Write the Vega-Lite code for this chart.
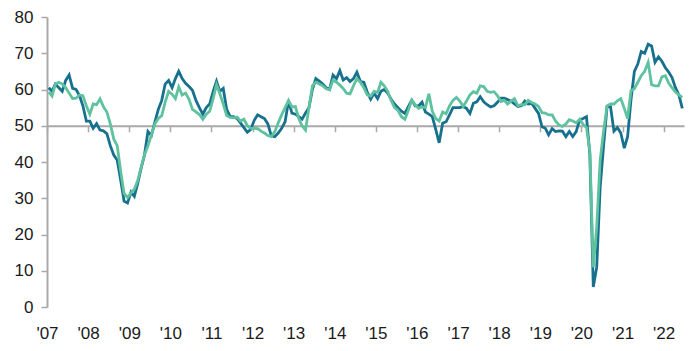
{
  "$schema": "https://vega.github.io/schema/vega-lite/v6.json",
  "width": 637,
  "height": 290,
  "autosize": {"type": "none"},
  "padding": {"left": 47, "top": 17, "right": 16, "bottom": 44},
  "background": "white",
  "config": {
    "view": {"stroke": null},
    "axis": {
      "grid": false,
      "title": null,
      "labelFont": "Liberation Sans",
      "labelFontSize": 17,
      "labelColor": "#1a1a1a",
      "domainColor": "#a9a9a9",
      "tickColor": "#a9a9a9",
      "domainWidth": 2,
      "tickWidth": 1.5,
      "labelOverlap": false,
      "labelFlush": false,
      "zindex": 0
    }
  },
  "data": {
    "values": [
      {"month": "2007-01", "seriesA": 60.5, "seriesB": 59.3},
      {"month": "2007-02", "seriesA": 59.5, "seriesB": 58.2},
      {"month": "2007-03", "seriesA": 61.5, "seriesB": 61.5},
      {"month": "2007-04", "seriesA": 60.5, "seriesB": 62},
      {"month": "2007-05", "seriesA": 59.5, "seriesB": 61.5},
      {"month": "2007-06", "seriesA": 62.5, "seriesB": 60.5},
      {"month": "2007-07", "seriesA": 64, "seriesB": 59},
      {"month": "2007-08", "seriesA": 60.3, "seriesB": 57.5},
      {"month": "2007-09", "seriesA": 60, "seriesB": 57.6},
      {"month": "2007-10", "seriesA": 58.3, "seriesB": 58.5},
      {"month": "2007-11", "seriesA": 55.5, "seriesB": 58.3},
      {"month": "2007-12", "seriesA": 51.3, "seriesB": 55.5},
      {"month": "2008-01", "seriesA": 51.3, "seriesB": 53.2},
      {"month": "2008-02", "seriesA": 49.3, "seriesB": 56},
      {"month": "2008-03", "seriesA": 50.6, "seriesB": 55.8},
      {"month": "2008-04", "seriesA": 48.8, "seriesB": 57.4},
      {"month": "2008-05", "seriesA": 48.6, "seriesB": 55.2},
      {"month": "2008-06", "seriesA": 47.8, "seriesB": 53.8},
      {"month": "2008-07", "seriesA": 44.5, "seriesB": 50.5},
      {"month": "2008-08", "seriesA": 41.9, "seriesB": 46.3},
      {"month": "2008-09", "seriesA": 40.5, "seriesB": 44.5},
      {"month": "2008-10", "seriesA": 35, "seriesB": 37.5},
      {"month": "2008-11", "seriesA": 29.2, "seriesB": 31.3},
      {"month": "2008-12", "seriesA": 28.7, "seriesB": 30.2},
      {"month": "2009-01", "seriesA": 31.7, "seriesB": 31.5},
      {"month": "2009-02", "seriesA": 30.5, "seriesB": 32.5},
      {"month": "2009-03", "seriesA": 34, "seriesB": 34.8},
      {"month": "2009-04", "seriesA": 38.2, "seriesB": 38.5},
      {"month": "2009-05", "seriesA": 42, "seriesB": 42},
      {"month": "2009-06", "seriesA": 48.4, "seriesB": 44.5},
      {"month": "2009-07", "seriesA": 47.3, "seriesB": 47.5},
      {"month": "2009-08", "seriesA": 51, "seriesB": 50.5},
      {"month": "2009-09", "seriesA": 54.5, "seriesB": 52},
      {"month": "2009-10", "seriesA": 57, "seriesB": 52.8},
      {"month": "2009-11", "seriesA": 61.5, "seriesB": 56.5},
      {"month": "2009-12", "seriesA": 62.5, "seriesB": 59.5},
      {"month": "2010-01", "seriesA": 60.5, "seriesB": 58.7},
      {"month": "2010-02", "seriesA": 63, "seriesB": 57.5},
      {"month": "2010-03", "seriesA": 65, "seriesB": 60.7},
      {"month": "2010-04", "seriesA": 63, "seriesB": 58.5},
      {"month": "2010-05", "seriesA": 61.7, "seriesB": 59},
      {"month": "2010-06", "seriesA": 60.8, "seriesB": 57.3},
      {"month": "2010-07", "seriesA": 59.8, "seriesB": 54.5},
      {"month": "2010-08", "seriesA": 57, "seriesB": 53.8},
      {"month": "2010-09", "seriesA": 55, "seriesB": 53.1},
      {"month": "2010-10", "seriesA": 53.2, "seriesB": 51.8},
      {"month": "2010-11", "seriesA": 55, "seriesB": 53.2},
      {"month": "2010-12", "seriesA": 56, "seriesB": 54},
      {"month": "2011-01", "seriesA": 59.5, "seriesB": 57.5},
      {"month": "2011-02", "seriesA": 62.3, "seriesB": 61.3},
      {"month": "2011-03", "seriesA": 59.5, "seriesB": 58.9},
      {"month": "2011-04", "seriesA": 60.3, "seriesB": 56},
      {"month": "2011-05", "seriesA": 54.5, "seriesB": 52.8},
      {"month": "2011-06", "seriesA": 52.5, "seriesB": 52.3},
      {"month": "2011-07", "seriesA": 52.5, "seriesB": 52.2},
      {"month": "2011-08", "seriesA": 52, "seriesB": 52.4},
      {"month": "2011-09", "seriesA": 50.8, "seriesB": 51.3},
      {"month": "2011-10", "seriesA": 49.5, "seriesB": 51.8},
      {"month": "2011-11", "seriesA": 48.2, "seriesB": 50},
      {"month": "2011-12", "seriesA": 49, "seriesB": 49.3},
      {"month": "2012-01", "seriesA": 51.5, "seriesB": 49.3},
      {"month": "2012-02", "seriesA": 53, "seriesB": 49.2},
      {"month": "2012-03", "seriesA": 52.5, "seriesB": 48.5},
      {"month": "2012-04", "seriesA": 52, "seriesB": 48},
      {"month": "2012-05", "seriesA": 50.5, "seriesB": 47.3},
      {"month": "2012-06", "seriesA": 47.2, "seriesB": 47},
      {"month": "2012-07", "seriesA": 47, "seriesB": 48.3},
      {"month": "2012-08", "seriesA": 48, "seriesB": 50.8},
      {"month": "2012-09", "seriesA": 49.3, "seriesB": 53},
      {"month": "2012-10", "seriesA": 51.1, "seriesB": 55},
      {"month": "2012-11", "seriesA": 56.8, "seriesB": 57},
      {"month": "2012-12", "seriesA": 53.5, "seriesB": 55.2},
      {"month": "2013-01", "seriesA": 53.2, "seriesB": 55.3},
      {"month": "2013-02", "seriesA": 52.5, "seriesB": 52},
      {"month": "2013-03", "seriesA": 51.8, "seriesB": 50},
      {"month": "2013-04", "seriesA": 53.5, "seriesB": 48.8},
      {"month": "2013-05", "seriesA": 55, "seriesB": 55},
      {"month": "2013-06", "seriesA": 60, "seriesB": 61},
      {"month": "2013-07", "seriesA": 63, "seriesB": 62},
      {"month": "2013-08", "seriesA": 62.3, "seriesB": 61.5},
      {"month": "2013-09", "seriesA": 61.5, "seriesB": 61},
      {"month": "2013-10", "seriesA": 60.5, "seriesB": 60.2},
      {"month": "2013-11", "seriesA": 60, "seriesB": 59.9},
      {"month": "2013-12", "seriesA": 64, "seriesB": 62.6},
      {"month": "2014-01", "seriesA": 63, "seriesB": 62},
      {"month": "2014-02", "seriesA": 65.2, "seriesB": 61.2},
      {"month": "2014-03", "seriesA": 62.6, "seriesB": 60.3},
      {"month": "2014-04", "seriesA": 63.3, "seriesB": 59},
      {"month": "2014-05", "seriesA": 62.2, "seriesB": 58.8},
      {"month": "2014-06", "seriesA": 63, "seriesB": 61},
      {"month": "2014-07", "seriesA": 64.8, "seriesB": 63},
      {"month": "2014-08", "seriesA": 62.2, "seriesB": 62},
      {"month": "2014-09", "seriesA": 62, "seriesB": 60.5},
      {"month": "2014-10", "seriesA": 59.3, "seriesB": 58.5},
      {"month": "2014-11", "seriesA": 57.3, "seriesB": 58.2},
      {"month": "2014-12", "seriesA": 59, "seriesB": 59.5},
      {"month": "2015-01", "seriesA": 57.5, "seriesB": 59.2},
      {"month": "2015-02", "seriesA": 59.5, "seriesB": 62},
      {"month": "2015-03", "seriesA": 60, "seriesB": 61},
      {"month": "2015-04", "seriesA": 59, "seriesB": 59.5},
      {"month": "2015-05", "seriesA": 57.3, "seriesB": 57},
      {"month": "2015-06", "seriesA": 56, "seriesB": 55},
      {"month": "2015-07", "seriesA": 55, "seriesB": 54.2},
      {"month": "2015-08", "seriesA": 54, "seriesB": 52.5},
      {"month": "2015-09", "seriesA": 53.4, "seriesB": 51.8},
      {"month": "2015-10", "seriesA": 55.3, "seriesB": 54.3},
      {"month": "2015-11", "seriesA": 57.1, "seriesB": 57},
      {"month": "2015-12", "seriesA": 55.5, "seriesB": 55.8},
      {"month": "2016-01", "seriesA": 55.5, "seriesB": 54.8},
      {"month": "2016-02", "seriesA": 56.5, "seriesB": 55.2},
      {"month": "2016-03", "seriesA": 53.8, "seriesB": 55},
      {"month": "2016-04", "seriesA": 53.2, "seriesB": 58.8},
      {"month": "2016-05", "seriesA": 52.5, "seriesB": 54},
      {"month": "2016-06", "seriesA": 49, "seriesB": 52},
      {"month": "2016-07", "seriesA": 45.3, "seriesB": 51.3},
      {"month": "2016-08", "seriesA": 50.7, "seriesB": 53.8},
      {"month": "2016-09", "seriesA": 51.1, "seriesB": 53.3},
      {"month": "2016-10", "seriesA": 53, "seriesB": 55.5},
      {"month": "2016-11", "seriesA": 55, "seriesB": 57},
      {"month": "2016-12", "seriesA": 55, "seriesB": 57.8},
      {"month": "2017-01", "seriesA": 55, "seriesB": 56.8},
      {"month": "2017-02", "seriesA": 55.3, "seriesB": 55.3},
      {"month": "2017-03", "seriesA": 54.8, "seriesB": 56.8},
      {"month": "2017-04", "seriesA": 53.4, "seriesB": 58.5},
      {"month": "2017-05", "seriesA": 56.2, "seriesB": 59.4},
      {"month": "2017-06", "seriesA": 56.6, "seriesB": 59},
      {"month": "2017-07", "seriesA": 58, "seriesB": 61},
      {"month": "2017-08", "seriesA": 56.6, "seriesB": 60.8},
      {"month": "2017-09", "seriesA": 55.8, "seriesB": 59.5},
      {"month": "2017-10", "seriesA": 55.2, "seriesB": 59.2},
      {"month": "2017-11", "seriesA": 55.5, "seriesB": 59.4},
      {"month": "2017-12", "seriesA": 56.5, "seriesB": 58.3},
      {"month": "2018-01", "seriesA": 57.6, "seriesB": 56.7},
      {"month": "2018-02", "seriesA": 57.6, "seriesB": 57},
      {"month": "2018-03", "seriesA": 57.2, "seriesB": 56},
      {"month": "2018-04", "seriesA": 56.8, "seriesB": 56.8},
      {"month": "2018-05", "seriesA": 56, "seriesB": 57.5},
      {"month": "2018-06", "seriesA": 55.3, "seriesB": 55.5},
      {"month": "2018-07", "seriesA": 55.5, "seriesB": 55.8},
      {"month": "2018-08", "seriesA": 56.8, "seriesB": 55.8},
      {"month": "2018-09", "seriesA": 56, "seriesB": 57},
      {"month": "2018-10", "seriesA": 56.2, "seriesB": 56.4},
      {"month": "2018-11", "seriesA": 54.8, "seriesB": 56},
      {"month": "2018-12", "seriesA": 53.4, "seriesB": 55.3},
      {"month": "2019-01", "seriesA": 49.7, "seriesB": 53.6},
      {"month": "2019-02", "seriesA": 49.3, "seriesB": 53.5},
      {"month": "2019-03", "seriesA": 47.5, "seriesB": 53},
      {"month": "2019-04", "seriesA": 49.2, "seriesB": 53},
      {"month": "2019-05", "seriesA": 48.4, "seriesB": 51.3},
      {"month": "2019-06", "seriesA": 48.6, "seriesB": 50.2},
      {"month": "2019-07", "seriesA": 48.5, "seriesB": 49.8},
      {"month": "2019-08", "seriesA": 47, "seriesB": 50.5},
      {"month": "2019-09", "seriesA": 48.4, "seriesB": 51.7},
      {"month": "2019-10", "seriesA": 47, "seriesB": 51.3},
      {"month": "2019-11", "seriesA": 48.4, "seriesB": 50.8},
      {"month": "2019-12", "seriesA": 51.6, "seriesB": 51.8},
      {"month": "2020-01", "seriesA": 52, "seriesB": 50.4},
      {"month": "2020-02", "seriesA": 52.5, "seriesB": 49.5},
      {"month": "2020-03", "seriesA": 42, "seriesB": 43},
      {"month": "2020-04", "seriesA": 5.5, "seriesB": 11},
      {"month": "2020-05", "seriesA": 11, "seriesB": 22},
      {"month": "2020-06", "seriesA": 33, "seriesB": 40.5},
      {"month": "2020-07", "seriesA": 44.5, "seriesB": 48.5},
      {"month": "2020-08", "seriesA": 55.3, "seriesB": 55.5},
      {"month": "2020-09", "seriesA": 55.3, "seriesB": 56},
      {"month": "2020-10", "seriesA": 48.5, "seriesB": 56},
      {"month": "2020-11", "seriesA": 49.5, "seriesB": 56.9},
      {"month": "2020-12", "seriesA": 48, "seriesB": 57.5},
      {"month": "2021-01", "seriesA": 43.8, "seriesB": 54.8},
      {"month": "2021-02", "seriesA": 47, "seriesB": 52},
      {"month": "2021-03", "seriesA": 57, "seriesB": 59.6},
      {"month": "2021-04", "seriesA": 65, "seriesB": 60.2},
      {"month": "2021-05", "seriesA": 67, "seriesB": 62},
      {"month": "2021-06", "seriesA": 70.5, "seriesB": 63.8},
      {"month": "2021-07", "seriesA": 70, "seriesB": 65},
      {"month": "2021-08", "seriesA": 72.5, "seriesB": 67.5},
      {"month": "2021-09", "seriesA": 72, "seriesB": 61.3},
      {"month": "2021-10", "seriesA": 67.5, "seriesB": 61},
      {"month": "2021-11", "seriesA": 69, "seriesB": 61},
      {"month": "2021-12", "seriesA": 67.8, "seriesB": 63.5},
      {"month": "2022-01", "seriesA": 66, "seriesB": 63.8},
      {"month": "2022-02", "seriesA": 64.8, "seriesB": 61.8},
      {"month": "2022-03", "seriesA": 63.3, "seriesB": 60.5},
      {"month": "2022-04", "seriesA": 60.5, "seriesB": 59.3},
      {"month": "2022-05", "seriesA": 58.5, "seriesB": 58.5},
      {"month": "2022-06", "seriesA": 54.8, "seriesB": 57.8}
    ]
  },
  "resolve": {"axis": {"x": "independent"}},
  "layer": [
    {
      "mark": {"type": "line", "color": "#17708e", "strokeWidth": 2.8},
      "encoding": {
        "x": {
          "field": "month",
          "type": "temporal",
          "timeUnit": "utcyearmonth",
          "bandPosition": 0.5,
          "scale": {
            "nice": false,
            "domain": [
              {"year": 2007, "month": 1, "date": 1, "utc": true},
              {"year": 2022, "month": 7, "date": 1, "utc": true}
            ]
          },
          "axis": {
            "orient": "bottom",
            "domain": false,
            "ticks": false,
            "labelPadding": 18,
            "labelFlush": false,
            "format": "'%y",
            "values": [
              {"year": 2007, "month": 1, "date": 1, "utc": true},
              {"year": 2008, "month": 1, "date": 1, "utc": true},
              {"year": 2009, "month": 1, "date": 1, "utc": true},
              {"year": 2010, "month": 1, "date": 1, "utc": true},
              {"year": 2011, "month": 1, "date": 1, "utc": true},
              {"year": 2012, "month": 1, "date": 1, "utc": true},
              {"year": 2013, "month": 1, "date": 1, "utc": true},
              {"year": 2014, "month": 1, "date": 1, "utc": true},
              {"year": 2015, "month": 1, "date": 1, "utc": true},
              {"year": 2016, "month": 1, "date": 1, "utc": true},
              {"year": 2017, "month": 1, "date": 1, "utc": true},
              {"year": 2018, "month": 1, "date": 1, "utc": true},
              {"year": 2019, "month": 1, "date": 1, "utc": true},
              {"year": 2020, "month": 1, "date": 1, "utc": true},
              {"year": 2021, "month": 1, "date": 1, "utc": true},
              {"year": 2022, "month": 1, "date": 1, "utc": true}
            ]
          }
        },
        "y": {
          "field": "seriesA",
          "type": "quantitative",
          "scale": {"domain": [0, 80], "nice": false},
          "axis": {"values": [0, 10, 20, 30, 40, 50, 60, 70, 80], "tickSize": 6, "labelPadding": 8, "labelFlush": false}
        }
      }
    },
    {
      "mark": {"type": "line", "color": "#5ec29f", "strokeWidth": 2.8},
      "encoding": {
        "x": {
          "field": "month",
          "type": "temporal",
          "timeUnit": "utcyearmonth",
          "bandPosition": 0.5,
          "axis": {
            "orient": "bottom",
            "offset": -181.25,
            "labels": false,
            "domain": true,
            "ticks": true,
            "tickSize": 6,
            "zindex": 0,
            "values": [
              {"year": 2007, "month": 1, "date": 1, "utc": true},
              {"year": 2008, "month": 1, "date": 1, "utc": true},
              {"year": 2009, "month": 1, "date": 1, "utc": true},
              {"year": 2010, "month": 1, "date": 1, "utc": true},
              {"year": 2011, "month": 1, "date": 1, "utc": true},
              {"year": 2012, "month": 1, "date": 1, "utc": true},
              {"year": 2013, "month": 1, "date": 1, "utc": true},
              {"year": 2014, "month": 1, "date": 1, "utc": true},
              {"year": 2015, "month": 1, "date": 1, "utc": true},
              {"year": 2016, "month": 1, "date": 1, "utc": true},
              {"year": 2017, "month": 1, "date": 1, "utc": true},
              {"year": 2018, "month": 1, "date": 1, "utc": true},
              {"year": 2019, "month": 1, "date": 1, "utc": true},
              {"year": 2020, "month": 1, "date": 1, "utc": true},
              {"year": 2021, "month": 1, "date": 1, "utc": true},
              {"year": 2022, "month": 1, "date": 1, "utc": true}
            ]
          }
        },
        "y": {
          "field": "seriesB",
          "type": "quantitative",
          "axis": {"values": [0, 10, 20, 30, 40, 50, 60, 70, 80], "tickSize": 6, "labelPadding": 8, "labelFlush": false}
        }
      }
    }
  ]
}
